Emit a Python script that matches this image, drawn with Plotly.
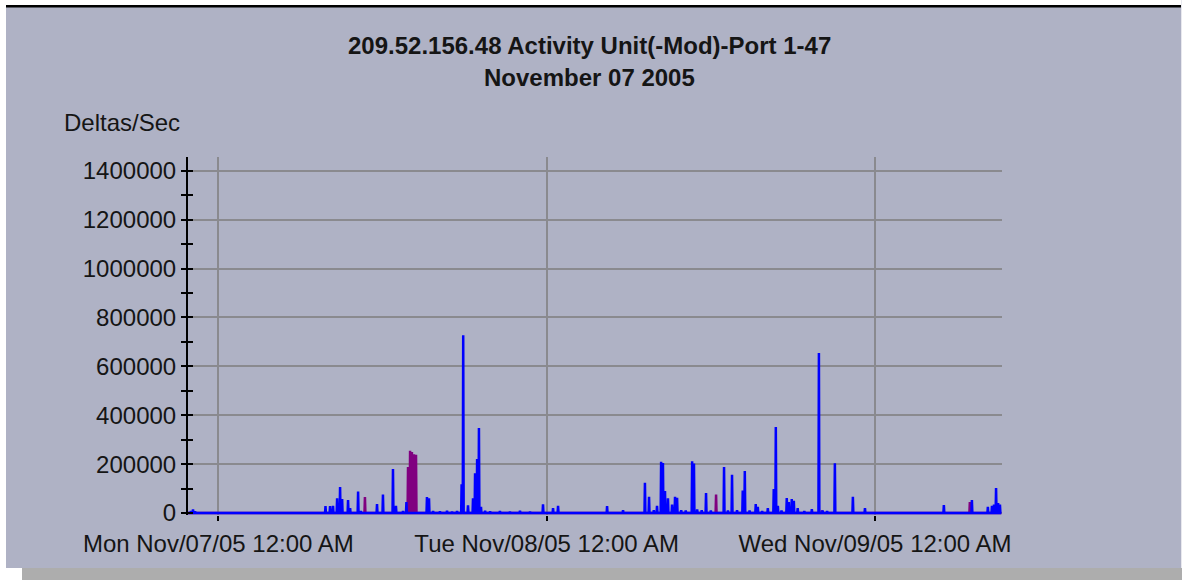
import plotly.graph_objects as go
from datetime import datetime, timedelta

# ---------------- data ----------------
blue_times = [
    "2005-11-06 22:00", "2005-11-06 22:09", "2005-11-06 22:18",
    "2005-11-07 07:50", "2005-11-07 08:10", "2005-11-07 08:23", "2005-11-07 08:41",
    "2005-11-07 08:54", "2005-11-07 09:03", "2005-11-07 09:29", "2005-11-07 09:38",
    "2005-11-07 10:13", "2005-11-07 10:25", "2005-11-07 11:36", "2005-11-07 12:02",
    "2005-11-07 12:46", "2005-11-07 12:59", "2005-11-07 13:30", "2005-11-07 13:45",
    "2005-11-07 15:15", "2005-11-07 15:24", "2005-11-07 15:42", "2005-11-07 16:12",
    "2005-11-07 16:43", "2005-11-07 17:05", "2005-11-07 17:27", "2005-11-07 17:47",
    "2005-11-07 17:54", "2005-11-07 18:15", "2005-11-07 18:37", "2005-11-07 18:46",
    "2005-11-07 18:55", "2005-11-07 19:03", "2005-11-07 19:12", "2005-11-07 19:30",
    "2005-11-07 19:52", "2005-11-07 20:35", "2005-11-07 21:19", "2005-11-07 22:03",
    "2005-11-07 22:47", "2005-11-07 23:44",
    "2005-11-08 00:28", "2005-11-08 00:50", "2005-11-08 04:25", "2005-11-08 05:35",
    "2005-11-08 07:11", "2005-11-08 07:29", "2005-11-08 07:50", "2005-11-08 08:04",
    "2005-11-08 08:22", "2005-11-08 08:30", "2005-11-08 08:39", "2005-11-08 08:52",
    "2005-11-08 09:10", "2005-11-08 09:23", "2005-11-08 09:32", "2005-11-08 09:50",
    "2005-11-08 10:10", "2005-11-08 10:38", "2005-11-08 10:46", "2005-11-08 11:00",
    "2005-11-08 11:20", "2005-11-08 11:39", "2005-11-08 12:00", "2005-11-08 12:58",
    "2005-11-08 13:15", "2005-11-08 13:33", "2005-11-08 13:55", "2005-11-08 14:20",
    "2005-11-08 14:29", "2005-11-08 14:50", "2005-11-08 15:17", "2005-11-08 15:26",
    "2005-11-08 15:45", "2005-11-08 16:10", "2005-11-08 16:36", "2005-11-08 16:45",
    "2005-11-08 16:54", "2005-11-08 17:10", "2005-11-08 17:33", "2005-11-08 17:42",
    "2005-11-08 17:55", "2005-11-08 18:04", "2005-11-08 18:21", "2005-11-08 18:50",
    "2005-11-08 19:23", "2005-11-08 19:54", "2005-11-08 20:10", "2005-11-08 20:30",
    "2005-11-08 21:04", "2005-11-08 22:23", "2005-11-08 23:16",
    "2005-11-09 05:02", "2005-11-09 07:05", "2005-11-09 08:15", "2005-11-09 08:33",
    "2005-11-09 08:42", "2005-11-09 08:51", "2005-11-09 09:00", "2005-11-09 09:08",
]
blue_values = [
    8000, 15000, 7000,
    28000, 28000, 30000, 60000,
    106000, 57000, 53000, 20000,
    88000, 8000, 37000, 76000,
    180000, 30000, 8000, 45000,
    65000, 60000, 8000, 7000,
    9000, 6000, 8000, 118000,
    727000, 32000, 60000, 163000,
    221000, 348000, 25000, 9000,
    7000, 8000, 6000, 9000,
    6000, 36000,
    20000, 30000, 28000, 12000,
    124000, 66000, 12000, 30000,
    210000, 205000, 90000, 60000,
    35000, 66000, 62000, 12000,
    10000, 212000, 203000, 15000,
    12000, 82000, 10000, 188000,
    10000, 157000, 12000, 92000,
    172000, 10000, 37000, 25000,
    8000, 20000, 98000, 352000,
    29000, 10000, 61000, 45000,
    57000, 50000, 20000, 8000,
    16000, 654000, 10000, 8000,
    204000, 66000, 20000,
    33000, 53000, 25000, 30000,
    35000, 102000, 41000, 35000,
]

purple_times = [
    "2005-11-07 10:43", "2005-11-07 13:52", "2005-11-07 14:01", "2005-11-07 14:09",
    "2005-11-07 14:18", "2005-11-07 14:27", "2005-11-07 17:45", "2005-11-07 17:58",
    "2005-11-08 08:40", "2005-11-08 12:23", "2005-11-08 20:07",
    "2005-11-09 06:56", "2005-11-09 09:04",
]
purple_values = [
    65000, 188000, 255000, 250000,
    240000, 238000, 5000, 5000,
    4000, 76000, 10000,
    45000, 12000,
]

series_start = "2005-11-06 21:40"
series_end = "2005-11-09 09:14"

x_tick_times = ["2005-11-07 00:00", "2005-11-08 00:00", "2005-11-09 00:00"]
x_tick_labels = ["Mon Nov/07/05 12:00 AM", "Tue Nov/08/05 12:00 AM", "Wed Nov/09/05 12:00 AM"]
y_tick_values = [0, 200000, 400000, 600000, 800000, 1000000, 1200000, 1400000]

title_line1 = "209.52.156.48 Activity Unit(-Mod)-Port 1-47"
title_line2 = "November 07 2005"
y_title = "Deltas/Sec"

# ---------------- build line paths (zero baseline between samples) ----------------
FMT = "%Y-%m-%d %H:%M"


def build_path(times, values):
    pts = sorted(zip([datetime.strptime(t, FMT) for t in times], values))
    xs = [datetime.strptime(series_start, FMT)]
    ys = [0]
    half = timedelta(minutes=2)
    for t, v in pts:
        xs += [t - half, t, t + half]
        ys += [0, v, 0]
    xs.append(datetime.strptime(series_end, FMT))
    ys.append(0)
    return xs, ys


bx, by = build_path(blue_times, blue_values)
px_, py_ = build_path(purple_times, purple_values)

# ---------------- layout geometry ----------------
W, H = 1182, 580
L, R, T, B = 188, 180, 157, 65
PW = W - L - R
PH = H - T - B


def xp(px):
    return (px - L) / PW


def yp(py):
    return (H - B - py) / PH


BG = "#AFB2C5"
FONT = "Liberation Sans, Arial, sans-serif"
TXT = "#151515"
GRID = "#8A8A8F"

x_range = ["2005-11-06 21:47", "2005-11-09 09:17"]
y_range = [-8000, 1456000]

fig = go.Figure()
fig.add_trace(go.Scatter(x=px_, y=py_, mode="lines",
                         line=dict(color="#800080", width=2.5), yaxis="y",
                         hoverinfo="skip", showlegend=False))
fig.add_trace(go.Scatter(x=bx, y=by, mode="lines",
                         line=dict(color="#0000FF", width=2.5), yaxis="y2",
                         hoverinfo="skip", showlegend=False))

fig.update_layout(
    width=W, height=H,
    margin=dict(l=L, r=R, t=T, b=B),
    paper_bgcolor=BG, plot_bgcolor=BG,
    font=dict(family=FONT, size=24, color=TXT),
    showlegend=False,
    xaxis=dict(
        type="date", range=x_range,
        tickmode="array", tickvals=x_tick_times, ticktext=x_tick_labels,
        showgrid=True, gridcolor=GRID, gridwidth=2,
        ticks="outside", ticklen=5, tickwidth=2, tickcolor="black",
        showline=False, zeroline=False,
        tickfont=dict(family=FONT, size=24, color=TXT),
        ticklabelstandoff=2,
    ),
    yaxis=dict(
        range=y_range, tickmode="array", tickvals=y_tick_values,
        tickformat="d",
        showgrid=True, gridcolor=GRID, gridwidth=2,
        showline=True, linecolor="black", linewidth=2,
        ticks="outside", ticklen=5, tickwidth=2, tickcolor="black",
        minor=dict(tickmode="linear", tick0=100000, dtick=200000, ticks="outside",
                   ticklen=5, tickwidth=2, tickcolor="black", showgrid=False),
        zeroline=False,
        tickfont=dict(family=FONT, size=24, color=TXT),
    ),
    yaxis2=dict(
        range=y_range, overlaying="y", side="left",
        tickmode="array", tickvals=y_tick_values,
        showticklabels=False, showgrid=False, showline=False, zeroline=False,
        ticks="inside", ticklen=5, tickwidth=2, tickcolor="black",
        minor=dict(tickmode="linear", tick0=100000, dtick=200000, ticks="inside",
                   ticklen=5, tickwidth=2, tickcolor="black", showgrid=False),
    ),
)

# title and axis caption
fig.add_annotation(text="<b>%s</b>" % title_line1, xref="paper", yref="paper",
                   x=xp(589), y=yp(46), xanchor="center", yanchor="middle",
                   showarrow=False, font=dict(family=FONT, size=24, color=TXT))
fig.add_annotation(text="<b>%s</b>" % title_line2, xref="paper", yref="paper",
                   x=xp(589), y=yp(77), xanchor="center", yanchor="middle",
                   showarrow=False, font=dict(family=FONT, size=24, color=TXT))
fig.add_annotation(text=y_title, xref="paper", yref="paper",
                   x=xp(62), y=yp(122), xanchor="left", yanchor="middle",
                   showarrow=False, font=dict(family=FONT, size=24, color=TXT))

# outer frame: white top strip, black top rule, white left strip, grey bottom shadow
shapes = [
    dict(type="rect", xref="paper", yref="paper", x0=xp(0), x1=xp(W), y0=yp(0), y1=yp(5),
         fillcolor="white", line=dict(width=0), layer="above"),
    dict(type="rect", xref="paper", yref="paper", x0=xp(6), x1=xp(1181), y0=yp(5), y1=yp(7.5),
         fillcolor="black", line=dict(width=0), layer="above"),
    dict(type="rect", xref="paper", yref="paper", x0=xp(0), x1=xp(6), y0=yp(0), y1=yp(H),
         fillcolor="white", line=dict(width=0), layer="above"),
    dict(type="rect", xref="paper", yref="paper", x0=xp(0), x1=xp(W), y0=yp(568), y1=yp(H),
         fillcolor="#ADADAD", line=dict(width=0), layer="above"),
    dict(type="rect", xref="paper", yref="paper", x0=xp(0), x1=xp(22), y0=yp(568), y1=yp(H),
         fillcolor="white", line=dict(width=0), layer="above"),
    dict(type="rect", xref="paper", yref="paper", x0=xp(1181), x1=xp(W), y0=yp(0), y1=yp(568),
         fillcolor="#E8E8EE", line=dict(width=0), layer="above"),
]
fig.update_layout(shapes=shapes)

fig.write_html("out.html",
               config={"displayModeBar": False},
               post_script="document.body.style.margin='0';document.body.style.overflow='hidden';")
